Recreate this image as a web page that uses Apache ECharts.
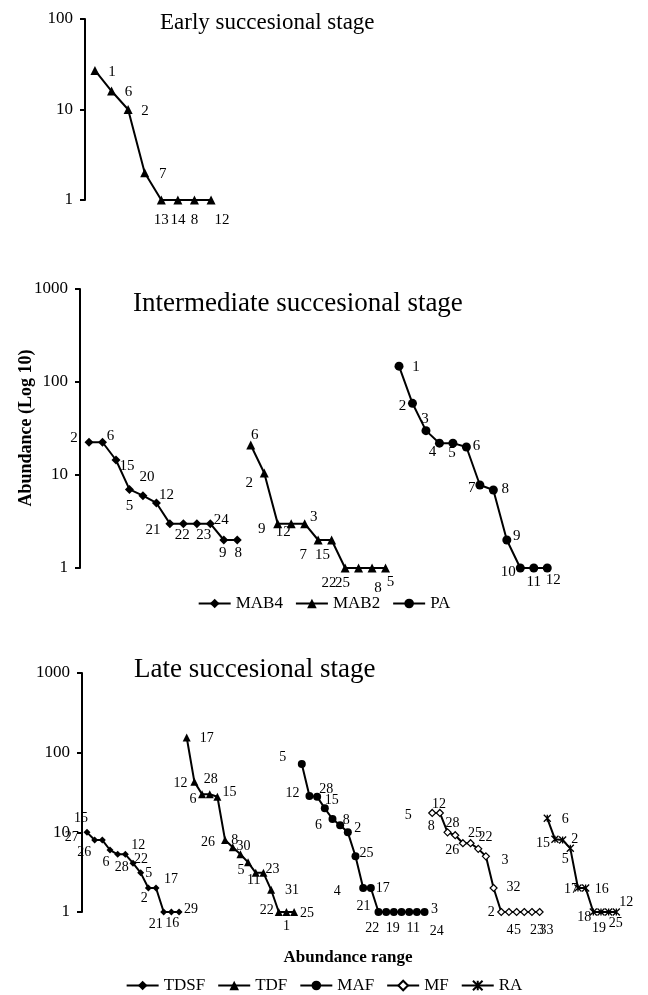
<!DOCTYPE html>
<html><head><meta charset="utf-8">
<script src="https://cdn.jsdelivr.net/npm/echarts@6/dist/echarts.min.js"></script>
<style>html,body{margin:0;padding:0;background:#fff}#c{width:648px;height:995px}</style>
</head><body><div id="c"></div>
<script>
// ---------------- data ----------------
const earlyValues = [27, 16, 10, 2, 1, 1, 1, 1];
const earlyLabels = ['1','6','2','7','13','14','8','12'];

const mab4Values = [22.5, 22.5, 14.5, 7, 6, 5, 3, 3, 3, 3, 2, 2];
const mab4Labels = ['2','6','15','5','20','12','21','22','23','24','9','8'];
const mab2Values = [21, 10.5, 3, 3, 3, 2, 2, 1, 1, 1, 1];
const mab2Labels = ['6','2','9','12','3','7','15','22','25','8','5'];
const paValues = [148, 59, 30, 22, 22, 20, 7.8, 6.9, 2, 1, 1, 1];
const paLabels = ['1','2','3','4','5','6','7','8','9','10','11','12'];

const tdsfValues = [10, 8, 8, 6, 5.3, 5.3, 4.1, 3.1, 2, 2, 1, 1, 1];
const tdsfLabels = ['15','27','26','6','28','12','22','5','2','17','21','16','29'];
const tdfValues = [155, 43, 30, 30, 28, 8, 6.5, 5.3, 4.2, 3.1, 3.1, 1.9, 1, 1, 1];
const tdfLabels = ['17','12','6','28','15','26','8','30','5','11','23','31','22','1','25'];
const mafValues = [72, 28.5, 28, 20, 14.7, 12.3, 10, 5, 2, 2, 1, 1, 1, 1, 1, 1, 1];
const mafLabels = ['5','12','28','15','6','8','2','25','4','17','21','22','19','','11','24','3'];
const mfValues = [17.5, 17.5, 10, 9.2, 7.3, 7.3, 6.2, 5, 2, 1, 1, 1, 1, 1, 1];
const mfLabels = ['8','12','28','26','25','22','5','3','32','2','4','5','','23','33'];
const raValues = [15, 8.2, 8, 6.3, 2, 2, 1, 1, 1, 1];
const raLabels = ['6','15','2','5','17','16','18','19','25','12'];

const titles = ['Early succesional stage', 'Intermediate succesional stage', 'Late succesional stage'];
const yTitle = 'Abundance (Log 10)';
const xTitle = 'Abundance range';

// ---------------- label placement (style) ----------------
const earlyOff = [[17,2],[17,1],[17,2],[18,1],[0,20],[0,20],[0,20],[11,20]];
const mab4Off = [[-15,-4],[8,-6],[11,6],[0,17],[4,-19],[10,-8],[-17,6],[-1,11],[7,11],[11,-4],[-1,13],[1,13]];
const mab2Off = [[4,-10],[-15,10],[-16,5],[-8,8],[9,-7],[-15,15],[-9,15],[-16,15],[-16,15],[6,20],[5,14]];
const paOff = [[17,1],[-10,3],[-1,-12],[-7,9],[-1,10],[10,-1],[-8,3],[12,-1],[10,-4],[-12,4],[0,14],[6,12]];
const tdsfOff = [[-6,-14],[-23,-3],[-18,12],[-4,12],[4,13],[13,-9],[8,-4],[8,0],[-4,10],[15,-9],[-8,12],[1,11],[12,-3]];
const tdfOff = [[20,1],[-14,1],[-9,5],[1,-15],[12,-4],[-17,2],[2,-7],[3,-8],[-7,8],[-2,7],[9,-4],[21,1],[-12,-2],[0,14],[13,1]];
const mafOff = [[-19,-7],[-17,-3],[9,-7],[7,-8],[-14,6],[6,-5],[10,-4],[11,-3],[-26,3],[12,0],[-15,-6],[-14,16],[-1,16],[0,0],[4,16],[20,19],[10,-3]];
const mfOff = [[-1,13],[-1,-9],[5,-9],[-3,15],[12,-10],[15,-6],[-70,-34],[19,4],[20,-1],[-10,0],[1,18],[1,18],[0,0],[5,18],[7,18]];
const raOff = [[18,1],[-12,4],[12,-1],[-5,11],[-7,1],[16,1],[-9,5],[-2,16],[7,11],[10,-10]];

const FONT = 'Liberation Serif';
const chart = echarts.init(document.getElementById('c'), null, {renderer: 'canvas'});

function build(values, start, offs) {
  return values.map((v, k) => ({ value: [start + k, v], label: { offset: offs[k] } }));
}
function mkSeries(name, grid, values, labels, offs, start, symbol, size, fs, extra) {
  const s = {
    name: name, type: 'line', xAxisIndex: grid, yAxisIndex: grid,
    data: build(values, start, offs),
    symbol: symbol, symbolSize: size,
    lineStyle: { color: '#000', width: 2 },
    itemStyle: { color: '#000' },
    label: {
      show: true, position: 'inside', color: '#000', fontFamily: FONT, fontSize: fs,
      formatter: p => labels[p.dataIndex]
    },
    emphasis: { disabled: true },
    z: 3
  };
  return Object.assign(s, extra || {});
}

// consecutive starts along each shared x axis
const sMab4 = 0, sMab2 = sMab4 + mab4Values.length, sPa = sMab2 + mab2Values.length;
const sTdsf = 0, sTdf = sTdsf + tdsfValues.length, sMaf = sTdf + tdfValues.length,
      sMf = sMaf + mafValues.length, sRa = sMf + mfValues.length;
const nMid = sPa + paValues.length, nLate = sRa + raValues.length;

function yAxis(grid, max) {
  return {
    type: 'log', logBase: 10, gridIndex: grid, min: 1, max: max,
    axisLine: { show: true, onZero: false, lineStyle: { color: '#000', width: 2 } },
    axisTick: { show: true, length: 5, lineStyle: { color: '#000', width: 2 } },
    axisLabel: { fontFamily: FONT, fontSize: 17, color: '#000', margin: 12, formatter: v => String(Math.round(v)) },
    splitLine: { show: false }
  };
}

const asterisk = 'path://M0,0L10,10M10,0L0,10M5,0L5,10';

const option = {
  backgroundColor: '#fff',
  animation: false,
  title: [
    { text: titles[0], left: 160, top: 11, padding: 0, textStyle: { fontFamily: FONT, fontSize: 23, fontWeight: 'normal', color: '#000' } },
    { text: titles[1], left: 133, top: 290, padding: 0, textStyle: { fontFamily: FONT, fontSize: 27, fontWeight: 'normal', color: '#000' } },
    { text: titles[2], left: 134, top: 656, padding: 0, textStyle: { fontFamily: FONT, fontSize: 27, fontWeight: 'normal', color: '#000' } }
  ],
  grid: [
    { left: 85, top: 19, height: 181, width: 136 },
    { left: 80, top: 289, height: 279, width: 474 },
    { left: 82, top: 673, height: 239, width: 542 }
  ],
  xAxis: [
    { type: 'value', gridIndex: 0, min: -0.6, max: earlyValues.length - 0.4, show: false },
    { type: 'value', gridIndex: 1, min: -0.67, max: nMid - 0.5, show: false },
    { type: 'value', gridIndex: 2, min: -0.65, max: nLate, show: false }
  ],
  yAxis: [yAxis(0, 100), yAxis(1, 1000), yAxis(2, 1000)],
  legend: [
    { data: ['MAB4', 'MAB2', 'PA'], left: 'center', top: 590, itemWidth: 32, itemHeight: 12, itemGap: 12,
      textStyle: { fontFamily: FONT, fontSize: 17, color: '#000' } },
    { data: ['TDSF', 'TDF', 'MAF', 'MF', 'RA'], left: 'center', top: 972, itemWidth: 32, itemHeight: 12, itemGap: 12,
      textStyle: { fontFamily: FONT, fontSize: 17, color: '#000' } }
  ],
  graphic: [
    { type: 'text', x: 26, y: 428, rotation: Math.PI / 2,
      style: { text: yTitle, font: 'bold 18px "Liberation Serif"', fill: '#000', textAlign: 'center', textVerticalAlign: 'middle' } },
    { type: 'text', x: 348, y: 958,
      style: { text: xTitle, font: 'bold 17px "Liberation Serif"', fill: '#000', textAlign: 'center', textVerticalAlign: 'middle' } }
  ],
  series: [
    mkSeries('Early', 0, earlyValues, earlyLabels, earlyOff, 0, 'triangle', 9, 15),
    mkSeries('MAB4', 1, mab4Values, mab4Labels, mab4Off, sMab4, 'diamond', 9, 15),
    mkSeries('MAB2', 1, mab2Values, mab2Labels, mab2Off, sMab2, 'triangle', 9, 15),
    mkSeries('PA', 1, paValues, paLabels, paOff, sPa, 'circle', 9, 15),
    mkSeries('TDSF', 2, tdsfValues, tdsfLabels, tdsfOff, sTdsf, 'diamond', 7, 14),
    mkSeries('TDF', 2, tdfValues, tdfLabels, tdfOff, sTdf, 'triangle', 8, 14),
    mkSeries('MAF', 2, mafValues, mafLabels, mafOff, sMaf, 'circle', 8, 14),
    mkSeries('MF', 2, mfValues, mfLabels, mfOff, sMf, 'diamond', 7, 14,
      { itemStyle: { color: '#fff', borderColor: '#000', borderWidth: 1.2 } }),
    mkSeries('RA', 2, raValues, raLabels, raOff, sRa, asterisk, 7, 14,
      { itemStyle: { color: 'none', borderColor: '#000', borderWidth: 1.3 } })
  ]
};
chart.setOption(option);
</script>
</body></html>
